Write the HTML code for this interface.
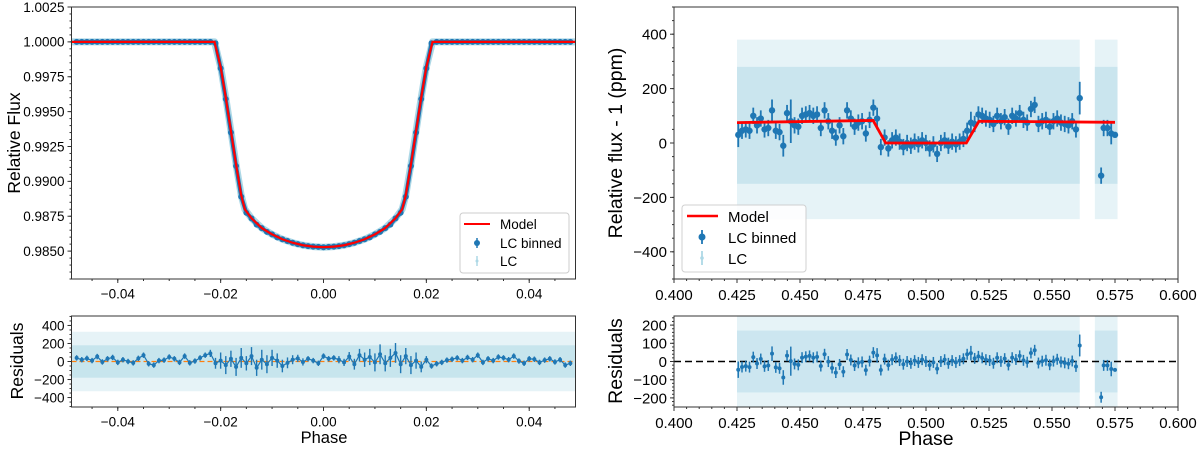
<!DOCTYPE html>
<html><head><meta charset="utf-8"><style>
html,body{margin:0;padding:0;background:#fff;}
svg{display:block;font-family:"Liberation Sans","DejaVu Sans",sans-serif;}
</style></head><body>
<svg id="fig" width="1200" height="449" viewBox="0 0 1200 449" xmlns="http://www.w3.org/2000/svg">
<g id="root"></g>
</svg>
<script>
// ---------- LEFT PANEL DATA ----------
const leftModelPhase=[-0.049,-0.0212,-0.020,-0.019,-0.018,-0.017,-0.016,-0.0153,-0.014,-0.012,-0.010,-0.008,-0.006,-0.004,-0.002,0,0.002,0.004,0.006,0.008,0.010,0.012,0.014,0.0153,0.016,0.017,0.018,0.019,0.020,0.0212,0.049];
const leftModelFlux=[1.0,1.0,0.9982,0.9960,0.9936,0.9912,0.9890,0.9880,0.98735,0.98665,0.9862,0.98585,0.9856,0.98542,0.98532,0.98528,0.98532,0.98542,0.9856,0.98585,0.9862,0.98665,0.98735,0.9880,0.9890,0.9912,0.9936,0.9960,0.9982,1.0,1.0];
const leftBinPhase=[-0.048,-0.047,-0.046,-0.045,-0.044,-0.043,-0.042,-0.041,-0.040,-0.039,-0.038,-0.037,-0.036,-0.035,-0.034,-0.033,-0.032,-0.031,-0.030,-0.029,-0.028,-0.027,-0.026,-0.025,-0.024,-0.023,-0.022,-0.021,-0.020,-0.019,-0.018,-0.017,-0.016,-0.015,-0.014,-0.013,-0.012,-0.011,-0.010,-0.009,-0.008,-0.007,-0.006,-0.005,-0.004,-0.003,-0.002,-0.001,0,0.001,0.002,0.003,0.004,0.005,0.006,0.007,0.008,0.009,0.010,0.011,0.012,0.013,0.014,0.015,0.016,0.017,0.018,0.019,0.020,0.021,0.022,0.023,0.024,0.025,0.026,0.027,0.028,0.029,0.030,0.031,0.032,0.033,0.034,0.035,0.036,0.037,0.038,0.039,0.040,0.041,0.042,0.043,0.044,0.045,0.046,0.047,0.048];
const leftBinFlux=[1.0,1.0,1.0,1.0,1.0,1.0,1.0,1.0,1.0,1.0,1.0,1.0,1.0,1.0,1.0,1.0,1.0,1.0,1.0,1.0,1.0,1.0,1.0,1.0,1.0,1.0,1.0,0.9999,0.9981,0.9959,0.9935,0.9911,0.9889,0.98775,0.98735,0.9869,0.98665,0.98638,0.9862,0.98598,0.98585,0.98572,0.9856,0.9855,0.98542,0.98536,0.98532,0.9853,0.98528,0.9853,0.98532,0.98536,0.98542,0.9855,0.9856,0.98572,0.98585,0.98598,0.9862,0.98638,0.98665,0.9869,0.98735,0.98775,0.9889,0.9911,0.9935,0.9959,0.9981,0.9999,1.0,1.0,1.0,1.0,1.0,1.0,1.0,1.0,1.0,1.0,1.0,1.0,1.0,1.0,1.0,1.0,1.0,1.0,1.0,1.0,1.0,1.0,1.0,1.0,1.0,1.0,1.0];
const leftResid=[40,20,35,10,55,-5,30,45,-10,20,0,-15,35,70,-25,-40,10,15,50,30,-10,60,-15,5,40,70,90,-20,10,-40,30,-60,40,-20,60,-70,20,-30,40,10,-50,-15,20,35,-5,30,10,-20,60,30,40,20,-10,55,-30,70,20,50,-10,80,-20,40,95,-30,60,-40,10,-60,20,-50,-25,-10,15,25,40,10,45,20,70,-10,30,10,50,40,20,60,5,-20,30,25,-10,15,30,-5,20,-40,-20];
const leftResidErr=[30,30,30,30,30,30,30,30,30,30,30,30,30,30,30,30,30,30,30,30,30,30,30,30,30,30,40,60,90,100,90,100,110,80,100,90,110,100,90,80,70,60,50,40,40,30,30,30,30,30,30,40,40,50,60,70,80,90,100,110,90,100,110,100,90,100,90,60,40,30,30,30,30,30,30,30,30,30,30,30,30,30,30,30,30,30,30,30,30,30,30,30,30,30,30,30,30];
const leftXTicks=[-0.04,-0.02,0.00,0.02,0.04];
const leftXTickLabels=["\u22120.04","\u22120.02","0.00","0.02","0.04"];
const leftYTicks=[0.9850,0.9875,0.9900,0.9925,0.9950,0.9975,1.0000,1.0025];
const leftYTickLabels=["0.9850","0.9875","0.9900","0.9925","0.9950","0.9975","1.0000","1.0025"];
const leftRTicks=[-400,-200,0,200,400];
const leftRTickLabels=["\u2212400","\u2212200","0","200","400"];
// ---------- RIGHT PANEL DATA ----------
const rightModelPhase=[0.425,0.479,0.484,0.516,0.521,0.575];
const rightModelVal=[75,83,0,0,80,76];
const rightBinVal=[30,45,50,45,100,65,90,50,55,120,45,40,-10,110,80,65,60,100,105,110,100,105,55,120,80,45,20,65,25,120,90,60,75,80,35,85,130,90,-15,20,-20,10,20,5,-15,0,-10,5,-5,10,0,-20,-5,-40,0,10,-10,5,-5,5,15,45,75,70,105,100,90,85,70,100,80,95,60,100,90,110,85,75,125,140,70,80,85,60,80,90,75,70,65,80,50,165];
const rightBinErr=[45,30,30,30,30,30,30,30,30,40,30,30,40,30,80,30,30,30,30,30,30,30,30,30,30,30,30,30,30,30,30,30,30,30,30,30,30,40,30,30,30,30,30,30,30,30,30,30,30,30,30,30,30,30,30,30,30,30,30,30,30,30,40,30,30,30,30,30,30,30,30,30,30,30,30,30,30,30,30,30,30,30,30,30,30,30,30,30,30,30,30];
const rightBinStart=0.4255, rightBinEnd=0.561;
const rightTailPhase=[0.5695,0.5705,0.572,0.5735,0.575];
const rightTailVal=[-120,55,55,35,30];
const rightTailErr=[60,30,30,30,40];
const rightXTicks=[0.400,0.425,0.450,0.475,0.500,0.525,0.550,0.575,0.600];
const rightXTickLabels=["0.400","0.425","0.450","0.475","0.500","0.525","0.550","0.575","0.600"];
const rightYTicks=[-400,-200,0,200,400];
const rightYTickLabels=["\u2212400","\u2212200","0","200","400"];
const rightRTicks=[-200,-100,0,100,200];
const rightRTickLabels=["\u2212200","\u2212100","0","100","200"];

const NS="http://www.w3.org/2000/svg";
const root=document.getElementById('root');
function mk(tag,attrs,parent){const e=document.createElementNS(NS,tag);for(const k in attrs)e.setAttribute(k,attrs[k]);(parent||root).appendChild(e);return e;}
function lin(d0,d1,r0,r1){return v=>r0+(v-d0)/(d1-d0)*(r1-r0);}
function interp(xs,ys,x){for(let i=0;i<xs.length-1;i++){if(x>=xs[i]&&x<=xs[i+1]){const t=(x-xs[i])/(xs[i+1]-xs[i]);return ys[i]+t*(ys[i+1]-ys[i]);}}return x<xs[0]?ys[0]:ys[ys.length-1];}
const DARK="#1f77b4", LIGHT="#add8e6";

function axesFrame(name,x0,y0,x1,y1){
  const r=mk('rect',{x:x0,y:y0,width:x1-x0,height:y1-y0,fill:'none',stroke:'#333','stroke-width':1});
  
  
}
function xTicks(name,sx,ticks,labels,yb,fs,minor,mlo,mhi){
  const g=mk('g',{});
  
  
  ticks.forEach((t,i)=>{const x=sx(t);mk('line',{x1:x,x2:x,y1:yb,y2:yb+4,stroke:'#333'},g);
    const tx=mk('text',{x:x,y:yb+6+fs,'font-size':fs,'text-anchor':'middle',fill:'#000'},g);tx.textContent=labels[i];
    
    });
  for(let v=mlo;v<=mhi+1e-9;v+=minor){const x=sx(v);mk('line',{x1:x,x2:x,y1:yb,y2:yb+2,stroke:'#333'},g);}
}
function yTicks(name,sy,ticks,labels,xl,fs,minor,mlo,mhi){
  const g=mk('g',{});
  
  
  ticks.forEach((t,i)=>{const y=sy(t);mk('line',{x1:xl-4,x2:xl,y1:y,y2:y,stroke:'#333'},g);
    const tx=mk('text',{x:xl-7,y:y+fs*0.36,'font-size':fs,'text-anchor':'end',fill:'#000'},g);tx.textContent=labels[i];
    
    });
  for(let v=mlo;v<=mhi+1e-9;v+=minor){const y=sy(v);mk('line',{x1:xl-2,x2:xl,y1:y,y2:y,stroke:'#333'},g);}
}
function label(name,txt,x,y,fs,rot){
  const t=mk('text',{x:x,y:y,'font-size':fs,'text-anchor':'middle',fill:'#000',transform:rot?`rotate(-90 ${x} ${y})`:''});
  t.textContent=txt;
  
  
}
function clip(id,x0,y0,x1,y1){const d=mk('clipPath',{id:id});mk('rect',{x:x0,y:y0,width:x1-x0,height:y1-y0},d);}
function errPoint(g,x,y,yl,yh,r,w){mk('line',{x1:x,x2:x,y1:yl,y2:yh,stroke:DARK,'stroke-width':w},g);mk('circle',{cx:x,cy:y,r:r,fill:DARK},g);}

// ===== LEFT TOP =====
const L={x0:71.5,x1:575.5,y0:7,y1:279};
const lx=lin(-0.049,0.049,L.x0,L.x1), ly=lin(0.9830,1.0025,L.y1,L.y0);
clip('cL',L.x0,L.y0,L.x1,L.y1);
let g=mk('g',{'clip-path':'url(#cL)'});


let pts=leftModelPhase.map((p,i)=>lx(p)+','+ly(leftModelFlux[i])).join(' ');
mk('polyline',{points:pts,fill:'none',stroke:LIGHT,'stroke-width':7,'stroke-linejoin':'round'},g);
g=mk('g',{'clip-path':'url(#cL)'});


mk('polyline',{points:leftBinPhase.map((p,i)=>lx(p)+','+ly(leftBinFlux[i])).join(' '),fill:'none',stroke:DARK,'stroke-width':4},g);
leftBinPhase.forEach((p,i)=>{mk('circle',{cx:lx(p),cy:ly(leftBinFlux[i]),r:3,fill:DARK},g);});
let m=mk('polyline',{points:pts,fill:'none',stroke:'#ff0000','stroke-width':2.2,'clip-path':'url(#cL)'});


axesFrame('left-top-axes',L.x0,L.y0,L.x1,L.y1);
xTicks('left-top-x-ticks',lx,leftXTicks,leftXTickLabels,L.y1,13.5,0.005,-0.045,0.045);
yTicks('left-top-y-ticks',ly,leftYTicks,leftYTickLabels,L.x0,13.5,0.0005,0.9830,1.0025);
label('left-y-axis-title','Relative Flux',20,143,17.5,true);
// legend
g=mk('g',{});


mk('rect',{x:460,y:213,width:109,height:60,rx:3,fill:'#fff',stroke:'#ccc'},g);
mk('line',{x1:464,x2:490,y1:224,y2:224,stroke:'#ff0000','stroke-width':2},g);
mk('line',{x1:477,x2:477,y1:238,y2:248,stroke:DARK,'stroke-width':1.5},g);
mk('circle',{cx:477,cy:243,r:3,fill:DARK},g);
mk('line',{x1:477,x2:477,y1:256,y2:266,stroke:LIGHT,'stroke-width':1.5},g);
mk('circle',{cx:477,cy:261,r:1.5,fill:LIGHT},g);
[['Model',229],['LC binned',248],['LC',266]].forEach(a=>{const t=mk('text',{x:500,y:a[1],'font-size':13.5,fill:'#000'},g);t.textContent=a[0];});

// ===== LEFT BOTTOM =====
const LR={x0:71.5,x1:575.5,y0:316,y1:407};
const lry=lin(-505,505,LR.y1,LR.y0);
clip('cLR',LR.x0,LR.y0,LR.x1,LR.y1);
g=mk('g',{'clip-path':'url(#cLR)'});


mk('rect',{x:LR.x0,y:lry(330),width:LR.x1-LR.x0,height:lry(-330)-lry(330),fill:LIGHT,opacity:0.3},g);
mk('rect',{x:LR.x0,y:lry(180),width:LR.x1-LR.x0,height:lry(-180)-lry(180),fill:LIGHT,opacity:0.55},g);
m=mk('line',{x1:LR.x0,x2:LR.x1,y1:lry(0),y2:lry(0),stroke:'#ff7f0e','stroke-width':1.3,'stroke-dasharray':'5,3'});


g=mk('g',{'clip-path':'url(#cLR)'});


mk('polyline',{points:leftBinPhase.map((p,i)=>lx(p)+','+lry(leftResid[i])).join(' '),fill:'none',stroke:DARK,'stroke-width':1.2},g);
leftBinPhase.forEach((p,i)=>errPoint(g,lx(p),lry(leftResid[i]),lry(leftResid[i]-leftResidErr[i]),lry(leftResid[i]+leftResidErr[i]),2,1.4));
axesFrame('left-bottom-axes',LR.x0,LR.y0,LR.x1,LR.y1);
xTicks('left-bottom-x-ticks',lx,leftXTicks,leftXTickLabels,LR.y1,13.5,0.005,-0.045,0.045);
yTicks('left-bottom-y-ticks',lry,leftRTicks,leftRTickLabels,LR.x0,13.5,50,-500,500);
label('left-residuals-title','Residuals',23,361,17.5,true);
label('left-x-axis-title','Phase',324,443,16.5,false);

// ===== RIGHT TOP =====
const R={x0:674,x1:1178,y0:7,y1:279};
const rx=lin(0.4,0.6,R.x0,R.x1), ry=lin(-500,500,R.y1,R.y0);
const rightBinPhase=rightBinVal.map((v,i)=>rightBinStart+i*(rightBinEnd-rightBinStart)/(rightBinVal.length-1));
const allP=rightBinPhase.concat(rightTailPhase), allV=rightBinVal.concat(rightTailVal), allE=rightBinErr.concat(rightTailErr);
clip('cR',R.x0,R.y0,R.x1,R.y1);
g=mk('g',{'clip-path':'url(#cR)'});


[[0.425,0.561],[0.567,0.576]].forEach(s=>{
  mk('rect',{x:rx(s[0]),y:ry(380),width:rx(s[1])-rx(s[0]),height:ry(-280)-ry(380),fill:LIGHT,opacity:0.3},g);
  mk('rect',{x:rx(s[0]),y:ry(280),width:rx(s[1])-rx(s[0]),height:ry(-150)-ry(280),fill:LIGHT,opacity:0.5},g);
});
g=mk('g',{'clip-path':'url(#cR)'});


allP.forEach((p,i)=>errPoint(g,rx(p),ry(allV[i]),ry(allV[i]-allE[i]),ry(allV[i]+allE[i]),3.2,1.8));
m=mk('polyline',{points:rightModelPhase.map((p,i)=>rx(p)+','+ry(rightModelVal[i])).join(' '),fill:'none',stroke:'#ff0000','stroke-width':2.8});


axesFrame('right-top-axes',R.x0,R.y0,R.x1,R.y1);
xTicks('right-top-x-ticks',rx,rightXTicks,rightXTickLabels,R.y1,15,0.005,0.4,0.6);
yTicks('right-top-y-ticks',ry,rightYTicks,rightYTickLabels,R.x0,15,50,-500,500);
label('right-y-axis-title','Relative flux - 1 (ppm)',622,143,19.5,true);
g=mk('g',{});


mk('rect',{x:682,y:205,width:124,height:67,rx:3,fill:'#fff',stroke:'#ccc',opacity:0.9},g);
mk('line',{x1:687,x2:718,y1:216,y2:216,stroke:'#ff0000','stroke-width':2.5},g);
mk('line',{x1:702,x2:702,y1:230,y2:244,stroke:DARK,'stroke-width':1.8},g);
mk('circle',{cx:702,cy:237,r:3.5,fill:DARK},g);
mk('line',{x1:702,x2:702,y1:251,y2:265,stroke:LIGHT,'stroke-width':1.8},g);
mk('circle',{cx:702,cy:258,r:1.8,fill:LIGHT},g);
[['Model',222],['LC binned',243],['LC',264]].forEach(a=>{const t=mk('text',{x:728,y:a[1],'font-size':15,fill:'#000'},g);t.textContent=a[0];});

// ===== RIGHT BOTTOM =====
const RR={x0:674,x1:1178,y0:316,y1:407};
const rry=lin(-250,250,RR.y1,RR.y0);
clip('cRR',RR.x0,RR.y0,RR.x1,RR.y1);
g=mk('g',{'clip-path':'url(#cRR)'});


[[0.425,0.561],[0.567,0.576]].forEach(s=>{
  mk('rect',{x:rx(s[0]),y:RR.y0,width:rx(s[1])-rx(s[0]),height:RR.y1-RR.y0,fill:LIGHT,opacity:0.3},g);
  mk('rect',{x:rx(s[0]),y:rry(170),width:rx(s[1])-rx(s[0]),height:rry(-170)-rry(170),fill:LIGHT,opacity:0.45},g);
});
m=mk('line',{x1:RR.x0,x2:RR.x1,y1:rry(0),y2:rry(0),stroke:'#000','stroke-width':1.6,'stroke-dasharray':'7,4'});


g=mk('g',{'clip-path':'url(#cRR)'});


allP.forEach((p,i)=>{const r=allV[i]-interp(rightModelPhase,rightModelVal,p);
  errPoint(g,rx(p),rry(r),rry(r-allE[i]),rry(r+allE[i]),2,1.5);});
axesFrame('right-bottom-axes',RR.x0,RR.y0,RR.x1,RR.y1);
xTicks('right-bottom-x-ticks',rx,rightXTicks,rightXTickLabels,RR.y1,15,0.005,0.4,0.6);
yTicks('right-bottom-y-ticks',rry,rightRTicks,rightRTickLabels,RR.x0,15,20,-240,240);
label('right-residuals-title','Residuals',622,361,19.5,true);
label('right-x-axis-title','Phase',926,445,19.5,false);
</script>
</body></html>
